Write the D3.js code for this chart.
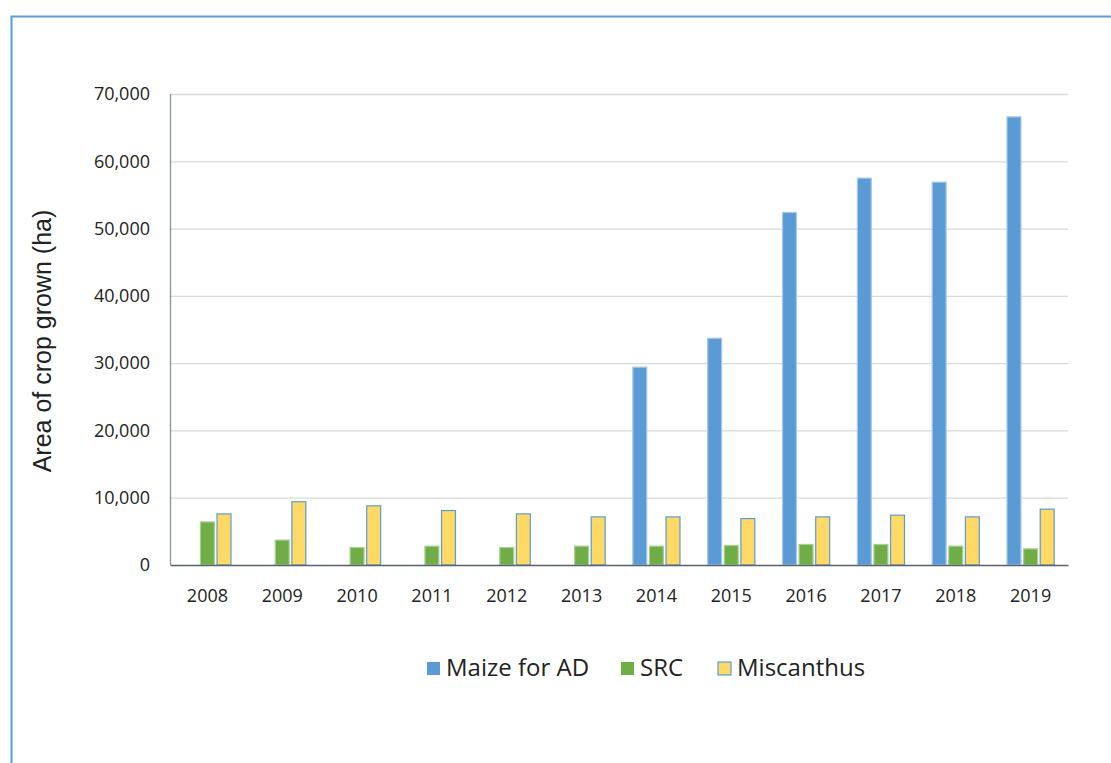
<!DOCTYPE html>
<html>
<head>
<meta charset="utf-8">
<script src="https://cdn.jsdelivr.net/npm/d3@7"></script>
<style>
  body { margin: 0; background: #fff; }
  svg { display: block; font-family: "Open Sans", "Noto Sans", sans-serif; }
</style>
</head>
<body>
<div class="chart"></div>
<script>
var years = ['2008', '2009', '2010', '2011', '2012', '2013', '2014', '2015', '2016', '2017', '2018', '2019'];
var seriesNames = ['Maize for AD', 'SRC', 'Miscanthus'];
var maize = [0, 0, 0, 0, 0, 0, 29400, 33700, 52400, 57500, 56900, 66600];
var src = [6400, 3700, 2600, 2800, 2600, 2800, 2800, 2900, 3050, 3050, 2800, 2400];
var miscanthus = [7600, 9400, 8800, 8100, 7600, 7150, 7150, 6900, 7150, 7400, 7150, 8300];
var yTicks = [0, 10000, 20000, 30000, 40000, 50000, 60000, 70000];

(function () {
  var fills = ['#5b9bd5', '#70ad47', '#ffd966'];
  var strokes = ['#a9c8ea', '#a9d18e', '#5b9bd5'];
  var values = [maize, src, miscanthus];

  var data = years.map(function (y, i) {
    return { year: y, vals: values.map(function (v, k) { return { k: k, v: v[i] }; }) };
  });

  var svg = d3.select('.chart').append('svg')
    .attr('width', 1111)
    .attr('height', 763);

  // outer frame
  svg.append('rect')
    .attr('x', 11.5).attr('y', 16.5)
    .attr('width', 1200).attr('height', 900)
    .attr('fill', 'none')
    .attr('stroke', '#5b9bd5')
    .attr('stroke-width', 2);

  var margin = {top: 94, left: 170};
  var width = 898, height = 471;
  var g = svg.append('g').attr('transform', 'translate(' + margin.left + ',' + margin.top + ')');

  var x0 = d3.scaleBand().domain(years).range([0, width]).paddingInner(0.37).paddingOuter(0.185);
  var x1 = d3.scaleBand().domain([0, 1, 2]).range([0, x0.bandwidth()]).paddingInner(0.16);
  var y = d3.scaleLinear().domain([0, 70000]).range([height, 0]);

  // grid
  g.append('g')
    .selectAll('line')
    .data(yTicks.slice(1))
    .enter().append('line')
      .attr('x1', 0).attr('x2', width)
      .attr('y1', function (d) { return y(d) + 0.5; })
      .attr('y2', function (d) { return y(d) + 0.5; })
      .attr('stroke', '#d9d9d9')
      .attr('stroke-width', 1.3);

  // y axis labels
  var axisLeft = d3.axisLeft(y)
    .tickValues(yTicks)
    .tickSize(0)
    .tickPadding(20)
    .tickFormat(d3.format(','));
  var ya = g.append('g').call(axisLeft);
  ya.select('.domain').remove();
  ya.selectAll('text').attr('font-size', '18px').attr('fill', '#222').attr('font-family', '"Open Sans", sans-serif');

  g.append('line')
    .attr('x1', 0.5).attr('x2', 0.5)
    .attr('y1', 0).attr('y2', height)
    .attr('stroke', '#8a929c').attr('stroke-width', 1.3);

  // bars
  var groups = g.append('g').selectAll('g')
    .data(data)
    .enter().append('g')
      .attr('transform', function (d) { return 'translate(' + x0(d.year) + ',0)'; });

  groups.selectAll('rect')
    .data(function (d) { return d.vals.filter(function (e) { return e.v > 0; }); })
    .enter().append('rect')
      .attr('x', function (d) { return x1(d.k); })
      .attr('y', function (d) { return y(d.v); })
      .attr('width', x1.bandwidth())
      .attr('height', function (d) { return height - y(d.v); })
      .attr('fill', function (d) { return fills[d.k]; })
      .attr('stroke', function (d) { return strokes[d.k]; })
      .attr('stroke-width', 1.2);

  // x axis
  var axisBottom = d3.axisBottom(x0).tickSize(0).tickPadding(24);
  var xa = g.append('g')
    .attr('transform', 'translate(0,' + height + ')')
    .call(axisBottom);
  xa.select('.domain').attr('stroke', '#56606e').attr('stroke-width', 1.5);
  xa.selectAll('text').attr('font-size', '18px').attr('fill', '#222').attr('font-family', '"Open Sans", sans-serif');

  // y label
  svg.append('text')
    .attr('transform', 'translate(51,341) rotate(-90)')
    .attr('text-anchor', 'middle')
    .attr('font-family', '"Liberation Sans", Arial, sans-serif')
    .attr('font-size', '25px')
    .attr('fill', '#222')
    .text('Area of crop grown (ha)');

  // legend
  var legendX = [427, 621, 718];
  var legend = svg.append('g').selectAll('g')
    .data(seriesNames)
    .enter().append('g')
      .attr('transform', function (d, i) { return 'translate(' + legendX[i] + ',662)'; });
  legend.append('rect')
    .attr('width', 13).attr('height', 13)
    .attr('fill', function (d, i) { return fills[i]; })
    .attr('stroke', function (d, i) { return i === 2 ? strokes[i] : 'none'; })
    .attr('stroke-width', 1.2);
  legend.append('text')
    .attr('x', 19).attr('y', 14)
    .attr('font-size', '24px')
    .attr('fill', '#222')
    .text(function (d) { return d; });
})();
</script>
</body>
</html>
